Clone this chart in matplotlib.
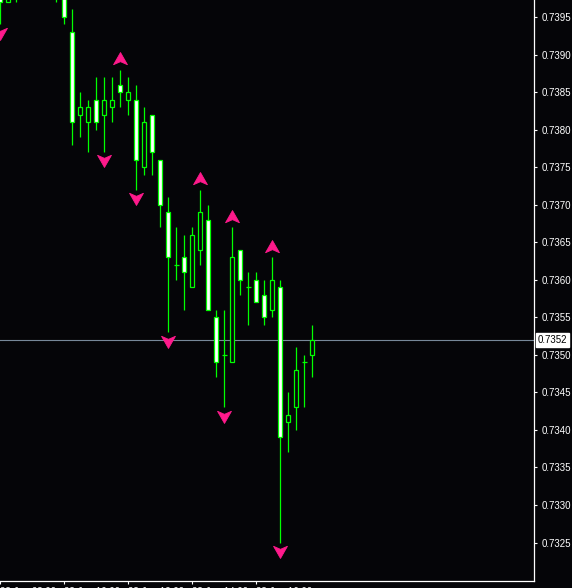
import numpy as np
import matplotlib
matplotlib.use("Agg")
import matplotlib.pyplot as plt
from matplotlib.path import Path
from matplotlib import transforms

# candle data (4-digit quotes), index = bar number from left edge
opens = [0.7398, 0.7397, 0.7399, 0.7401, 0.7403, 0.7404, 0.7402, 0.7399,
         0.7399, 0.7393, 0.7382, 0.7381, 0.7384, 0.7382, 0.7383, 0.7386,
         0.7384, 0.7384, 0.7375, 0.7382, 0.7376, 0.7369, 0.7362, 0.7363,
         0.7359, 0.7364, 0.7368, 0.7355, 0.7350, 0.7349, 0.7364, 0.7359,
         0.7360, 0.7358, 0.7356, 0.7359, 0.7341, 0.7343, 0.7349, 0.7350]
highs = [0.7400, 0.7400, 0.7402, 0.7405, 0.7406, 0.7406, 0.7404, 0.7401,
         0.7400, 0.7396, 0.7385, 0.7384, 0.7387, 0.7387, 0.7387, 0.7388,
         0.7387, 0.7386, 0.7383, 0.7382, 0.7376, 0.7371, 0.7367, 0.7366,
         0.7367, 0.7372, 0.7370, 0.7356, 0.7356, 0.7367, 0.7364, 0.7361,
         0.7361, 0.7360, 0.7363, 0.7360, 0.7345, 0.7351, 0.7350, 0.7354]
lows = [0.7394, 0.7397, 0.7397, 0.7399, 0.7400, 0.7401, 0.7399, 0.7397,
        0.7394, 0.7378, 0.7379, 0.7377, 0.7380, 0.7377, 0.7381, 0.7383,
        0.7382, 0.7372, 0.7374, 0.7374, 0.7367, 0.7353, 0.7360, 0.7356,
        0.7359, 0.7362, 0.7356, 0.7347, 0.7343, 0.7349, 0.7358, 0.7354,
        0.7357, 0.7354, 0.7355, 0.7325, 0.7337, 0.7340, 0.7343, 0.7347]
closes = [0.7397, 0.7399, 0.7401, 0.7403, 0.7404, 0.7402, 0.7399, 0.7400,
          0.7395, 0.7381, 0.7383, 0.7383, 0.7381, 0.7384, 0.7384, 0.7385,
          0.7385, 0.7376, 0.7381, 0.7377, 0.7370, 0.7363, 0.7362, 0.7361,
          0.7366, 0.7369, 0.7356, 0.7349, 0.7350, 0.7363, 0.7360, 0.7359,
          0.7357, 0.7355, 0.7360, 0.7339, 0.7342, 0.7348, 0.7349, 0.7352]

# fractal arrows
up_bars = [15, 25, 29, 34]
down_bars = [0, 13, 17, 21, 28, 35]

time_ticks = [0, 8, 16, 24, 32]
time_labels = ["28 Jan 08:00", "28 Jan 10:00", "28 Jan 12:00",
               "28 Jan 14:00", "28 Jan 16:00"]
price_ticks = [0.7325, 0.7330, 0.7335, 0.7340, 0.7345, 0.7350, 0.7355,
               0.7360, 0.7365, 0.7370, 0.7375, 0.7380, 0.7385, 0.7390, 0.7395]
last_price = closes[-1]

bg = "#050508"
green = "#00ff00"
pink = "#ff1a8c"

plt.rcParams["font.family"] = ["Liberation Sans", "DejaVu Sans"]

fig = plt.figure(figsize=(5.72, 5.88), dpi=100, facecolor=bg)
ax = fig.add_axes([0, 1 - 581 / 588, 534 / 572, 581 / 588], facecolor=bg)

o = np.array(opens)
h = np.array(highs)
l = np.array(lows)
c = np.array(closes)
x = np.arange(len(o))

ax.axhline(last_price, color="#778899", lw=0.8, zorder=0.5)

ax.vlines(x, l, h, color=green, lw=0.9, zorder=1)
bear = c < o
bull = c > o
doji = c == o
ax.bar(x[bear], (o - c)[bear], bottom=c[bear], width=0.5,
       facecolor="white", edgecolor=green, lw=0.9, zorder=2)
ax.bar(x[bull], (c - o)[bull], bottom=o[bull], width=0.5,
       facecolor=bg, edgecolor=green, lw=0.9, zorder=2)
ax.hlines(c[doji], x[doji] - 0.3, x[doji] + 0.3, color=green, lw=0.9, zorder=2)

# arrowhead markers
up_mark = Path([(0, 0.8), (0.8, -0.6), (0, -0.25), (-0.8, -0.6), (0, 0.8)],
               [Path.MOVETO, Path.LINETO, Path.LINETO, Path.LINETO, Path.CLOSEPOLY])
down_mark = Path([(0, -0.8), (0.8, 0.6), (0, 0.25), (-0.8, 0.6), (0, -0.8)],
                 [Path.MOVETO, Path.LINETO, Path.LINETO, Path.LINETO, Path.CLOSEPOLY])
up_tr = transforms.offset_copy(ax.transData, fig=fig, x=0, y=7.5, units="points")
dn_tr = transforms.offset_copy(ax.transData, fig=fig, x=0, y=-6.0, units="points")
ax.plot(x[up_bars], h[up_bars], ls="none", marker=up_mark, ms=10,
        color=pink, mec=pink, mew=0.6, transform=up_tr, zorder=3)
ax.plot(x[down_bars], l[down_bars], ls="none", marker=down_mark, ms=10,
        color=pink, mec=pink, mew=0.6, transform=dn_tr, zorder=3, clip_on=False)

ax.set_xlim(-0.05, 66.7)
ax.set_ylim(0.731988, 0.739726)

for s in ["left", "top"]:
    ax.spines[s].set_visible(False)
for s in ["right", "bottom"]:
    ax.spines[s].set_color("white")
    ax.spines[s].set_linewidth(0.9)

ax.yaxis.tick_right()
ax.set_yticks(price_ticks)
ax.set_yticklabels([f"{p:.4f}" for p in price_ticks])
ax.tick_params(axis="y", colors="white", length=2.5, width=0.8, pad=3,
               labelsize=7, labelcolor="white")
ax.set_xticks(time_ticks)
ax.set_xticklabels(time_labels, ha="left")
ax.tick_params(axis="x", colors="white", length=2.5, width=0.8, pad=1.5,
               labelsize=7, labelcolor="white")

ax.text(1.0 + 4 / 534, last_price, f"{last_price:.4f}",
        transform=transforms.blended_transform_factory(ax.transAxes, ax.transData),
        ha="left", va="center", fontsize=7, color="black",
        bbox=dict(boxstyle="square,pad=0.2", facecolor="white", edgecolor="white"),
        clip_on=False)

fig.savefig("out.png", dpi=100, facecolor=bg)
